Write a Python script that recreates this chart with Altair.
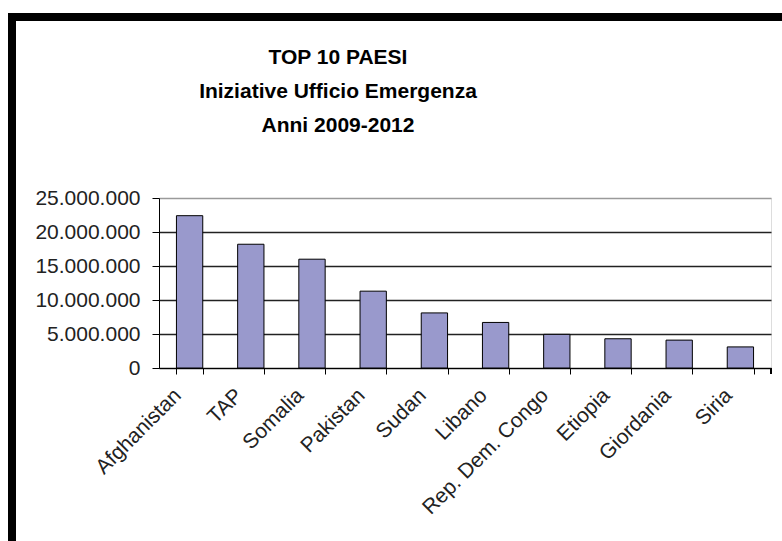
import altair as alt
import pandas as pd

countries = ["Afghanistan", "TAP", "Somalia", "Pakistan", "Sudan", "Libano",
             "Rep. Dem. Congo", "Etiopia", "Giordania", "Siria"]
values = [22400000, 18200000, 16000000, 11300000, 8100000, 6700000,
          4950000, 4300000, 4100000, 3100000]
y_ticks = [0, 5000000, 10000000, 15000000, 20000000, 25000000]
title_lines = ["TOP 10 PAESI", "Iniziative Ufficio Emergenza", "Anni 2009-2012"]

df = pd.DataFrame({"Paese": countries, "Valore": values})

W, H = 612, 170
FONT = "Liberation Sans"

bars = alt.Chart(df).mark_bar(
    color="#9999CC", stroke="#000000", strokeWidth=1
).encode(
    x=alt.X("Paese:N", sort=countries, title=None,
            scale=alt.Scale(paddingInner=0.57, paddingOuter=0.285),
            axis=alt.Axis(labelAngle=-45, labelFontSize=21, labelFont=FONT,
                          labelColor="#222222", tickBand="extent",
                          tickSize=6, tickColor="#000000", domainColor="#000000",
                          labelPadding=18, labelOffset=-12,
                          labelAlign="right", labelBaseline="middle")),
    y=alt.Y("Valore:Q", title=None,
            scale=alt.Scale(domain=[0, 25000000], nice=False),
            axis=alt.Axis(values=y_ticks,
                          labelExpr="replace(format(datum.value, ','), regexp(',', 'g'), '.')",
                          labelFontSize=21, labelFont=FONT, labelColor="#222222",
                          tickSize=7, tickColor="#000000", domainColor="#000000",
                          labelPadding=12,
                          grid=True,
                          gridColor=alt.condition("datum.value == 25000000",
                                                  alt.value("#9a9a9a"), alt.value("#222222")),
                          gridWidth=1.5))
)

end_tick = alt.Chart(df).mark_rule(color="#000000").encode(
    x=alt.value(W), y=alt.value(H), y2=alt.value(H + 6)
)

frame_top = alt.Chart(df).mark_rule(color="#000000", strokeWidth=8).encode(
    x=alt.value(-151), x2=alt.value(W + 11), y=alt.value(-181)
)
frame_left = alt.Chart(df).mark_rule(color="#000000", strokeWidth=8).encode(
    x=alt.value(-147), y=alt.value(-185), y2=alt.value(H + 173)
)

chart = alt.layer(bars, end_tick, frame_top, frame_left).properties(
    width=W, height=H,
    autosize=alt.AutoSizeParams(type="none"),
    padding={"left": 159, "top": 198, "right": 11, "bottom": 173},
    title=alt.TitleParams(text=title_lines, fontSize=21, font=FONT, fontWeight="bold",
                          color="#000000", anchor="middle", frame="group", dx=-127,
                          offset=-127, lineHeight=34),
).configure_view(
    fill="#C0C0C0", stroke="#8a8a8a", strokeWidth=1
).configure(background="#FFFFFF")

chart.save("out.html", embed_options={"renderer": "svg", "actions": False})
